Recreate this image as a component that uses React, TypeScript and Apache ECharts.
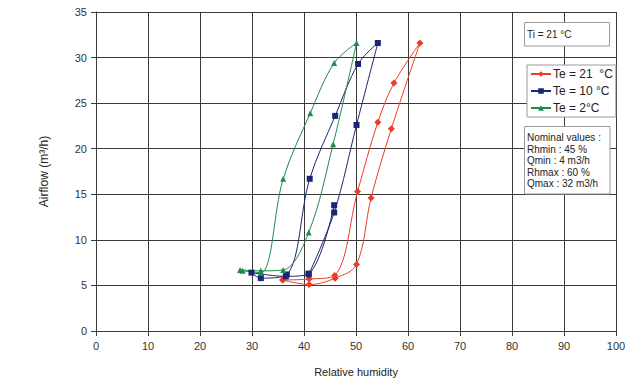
import React, { useEffect, useRef } from "react";
import * as echarts from "echarts";

const seriesNames = ["Te = 21  °C", "Te = 10 °C", "Te = 2°C"];
const seriesColors = ["#ee3b24", "#1c2473", "#1f8a4c"];
const seriesSymbols = ["diamond", "rect", "triangle"];

// [relative humidity, airflow] in measurement order (hysteresis loops)
const te21: [number, number][] = [
  [35.9, 5.6], [41.0, 5.1], [46.0, 5.8], [50.1, 7.3], [52.9, 14.6], [56.8, 22.2],
  [62.3, 31.6], [57.3, 27.2], [54.2, 22.9], [50.3, 15.3], [45.9, 6.1], [41.0, 5.7], [35.9, 5.6],
];
const te10: [number, number][] = [
  [40.9, 6.2], [45.8, 13.0], [50.1, 22.6], [54.2, 31.6], [50.4, 29.3], [46.0, 23.6],
  [41.1, 16.7], [36.7, 6.2], [31.7, 5.8], [29.9, 6.4], [36.5, 6.0], [40.9, 6.3], [45.8, 13.8],
];
const te2: [number, number][] = [
  [27.7, 6.7], [31.7, 6.6], [36.0, 6.7], [40.9, 10.8], [45.6, 20.5], [50.1, 31.6],
  [45.8, 29.4], [41.2, 23.9], [36.0, 16.7], [31.7, 6.4], [28.2, 6.6],
];
const seriesData = [te21, te10, te2];

const xMin = 0, xMax = 100, xStep = 10;
const yMin = 0, yMax = 35, yStep = 5;

const tiText = "Ti = 21 °C";
const nominalLines = [
  "Nominal values :",
  "Rhmin : 45 %",
  "Qmin : 4 m3/h",
  "Rhmax : 60 %",
  "Qmax : 32 m3/h",
];

const FONT = "'Liberation Sans', Arial, sans-serif";

export default function App() {
  const ref = useRef<HTMLDivElement>(null);
  useEffect(() => {
    if (!ref.current) return;
    const chart = echarts.init(ref.current, undefined, { renderer: "svg" });
    const gridColor = "#3a3a3a";
    chart.setOption({
      animation: false,
      backgroundColor: "#ffffff",
      textStyle: { fontFamily: FONT },
      grid: { left: 96, right: 19, top: 12, bottom: 50.5, containLabel: false },
      xAxis: {
        type: "value",
        min: xMin,
        max: xMax,
        interval: xStep,
        name: "Relative humidity",
        nameLocation: "middle",
        nameGap: 35,
        nameTextStyle: { fontFamily: FONT, fontSize: 11, color: "#222" },
        axisLine: { show: true, lineStyle: { color: gridColor, width: 1 } },
        axisTick: { show: true, inside: false, length: 5, lineStyle: { color: gridColor } },
        axisLabel: { fontFamily: FONT, fontSize: 11, color: "#333", margin: 9 },
        splitLine: { show: true, lineStyle: { color: gridColor, width: 1 } },
      },
      yAxis: {
        type: "value",
        min: yMin,
        max: yMax,
        interval: yStep,
        name: "Airflow (m³/h)",
        nameLocation: "middle",
        nameGap: 46,
        nameRotate: 90,
        nameTextStyle: { fontFamily: FONT, fontSize: 12, color: "#222" },
        axisLine: { show: true, lineStyle: { color: gridColor, width: 1 } },
        axisTick: { show: true, inside: false, length: 5, lineStyle: { color: gridColor } },
        axisLabel: { fontFamily: FONT, fontSize: 11, color: "#333", margin: 9 },
        splitLine: { show: true, lineStyle: { color: gridColor, width: 1 } },
      },
      legend: {
        orient: "vertical",
        left: 527,
        top: 65,
        backgroundColor: "#ffffff",
        borderColor: "#9a9a9a",
        borderWidth: 1,
        padding: [3, 3, 3, 3],
        itemWidth: 20,
        itemHeight: 7,
        itemGap: 5,
        z: 20,
        textStyle: { fontFamily: FONT, fontSize: 12, color: "#222", padding: [0, 0, 0, -3] },
        data: seriesNames,
      },
      graphic: [
        {
          type: "rect",
          z: 100,
          shape: { x: 524.5, y: 22.5, width: 85, height: 23.5 },
          style: { fill: "#ffffff", stroke: "#9a9a9a", lineWidth: 1 },
        },
        {
          type: "text",
          z: 101,
          x: 527,
          y: 34,
          style: { text: tiText, fontFamily: FONT, fontSize: 10, fill: "#222", verticalAlign: "middle" },
        },
        {
          type: "rect",
          z: 100,
          shape: { x: 524.5, y: 126.5, width: 85.5, height: 67.5 },
          style: { fill: "#ffffff", stroke: "#9a9a9a", lineWidth: 1 },
        },
        ...nominalLines.map((t, i) => ({
          type: "text",
          z: 101,
          x: 527,
          y: 137.5 + i * 11.5,
          style: { text: t, fontFamily: FONT, fontSize: 10, fill: "#222", verticalAlign: "middle" },
        })),
      ],
      series: seriesData.map((d, i) => ({
        name: seriesNames[i],
        type: "line",
        data: d,
        smooth: 0.35,
        symbol: seriesSymbols[i],
        symbolSize: i === 0 ? 7 : 6,
        color: seriesColors[i],
        lineStyle: { color: seriesColors[i], width: 1 },
        itemStyle: { color: seriesColors[i] },
        z: 5,
      })),
    });
    return () => chart.dispose();
  }, []);
  return (
    <div
      ref={ref}
      style={{ position: "absolute", left: 0, top: 0, width: 635, height: 382 }}
    />
  );
}
